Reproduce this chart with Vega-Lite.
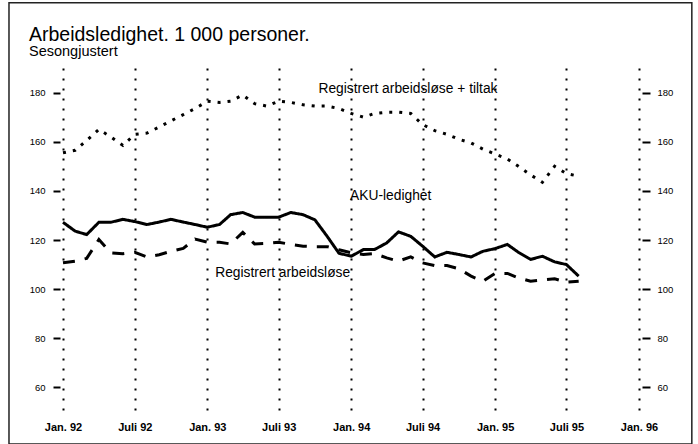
{
  "$schema": "https://vega.github.io/schema/vega-lite/v6.json",
  "width": 576,
  "height": 344,
  "autosize": {"type": "none"},
  "padding": {"left": 63, "top": 68, "right": 59, "bottom": 32},
  "background": "white",
  "config": {"view": {"stroke": null}, "font": "Liberation Sans"},
  "title": {
    "text": "Arbeidsledighet. 1 000 personer.",
    "subtitle": "Sesongjustert",
    "anchor": "start",
    "frame": "group",
    "dx": -34,
    "offset": -58,
    "font": "Liberation Sans",
    "fontSize": 19.5,
    "fontWeight": "normal",
    "color": "black",
    "subtitleFont": "Liberation Sans",
    "subtitleFontSize": 14.5,
    "subtitleColor": "black",
    "subtitlePadding": 0
  },
  "datasets": {
    "series": [
      {"date": "1992-01-01", "series": "AKU-ledighet", "value": 127.2},
      {"date": "1992-02-01", "series": "AKU-ledighet", "value": 123.6},
      {"date": "1992-03-01", "series": "AKU-ledighet", "value": 122.2},
      {"date": "1992-04-01", "series": "AKU-ledighet", "value": 127.2},
      {"date": "1992-05-01", "series": "AKU-ledighet", "value": 127.2},
      {"date": "1992-06-01", "series": "AKU-ledighet", "value": 128.4},
      {"date": "1992-07-01", "series": "AKU-ledighet", "value": 127.5},
      {"date": "1992-08-01", "series": "AKU-ledighet", "value": 126.3},
      {"date": "1992-09-01", "series": "AKU-ledighet", "value": 127.3},
      {"date": "1992-10-01", "series": "AKU-ledighet", "value": 128.4},
      {"date": "1992-11-01", "series": "AKU-ledighet", "value": 127.3},
      {"date": "1992-12-01", "series": "AKU-ledighet", "value": 126.3},
      {"date": "1993-01-01", "series": "AKU-ledighet", "value": 125.2},
      {"date": "1993-02-01", "series": "AKU-ledighet", "value": 126.3},
      {"date": "1993-03-01", "series": "AKU-ledighet", "value": 130.3},
      {"date": "1993-04-01", "series": "AKU-ledighet", "value": 131.2},
      {"date": "1993-05-01", "series": "AKU-ledighet", "value": 129.3},
      {"date": "1993-06-01", "series": "AKU-ledighet", "value": 129.3},
      {"date": "1993-07-01", "series": "AKU-ledighet", "value": 129.3},
      {"date": "1993-08-01", "series": "AKU-ledighet", "value": 131.2},
      {"date": "1993-09-01", "series": "AKU-ledighet", "value": 130.3},
      {"date": "1993-10-01", "series": "AKU-ledighet", "value": 128.2},
      {"date": "1993-11-01", "series": "AKU-ledighet", "value": 121.5},
      {"date": "1993-12-01", "series": "AKU-ledighet", "value": 114.6},
      {"date": "1994-01-01", "series": "AKU-ledighet", "value": 113.4},
      {"date": "1994-02-01", "series": "AKU-ledighet", "value": 116.1},
      {"date": "1994-03-01", "series": "AKU-ledighet", "value": 116.1},
      {"date": "1994-04-01", "series": "AKU-ledighet", "value": 118.8},
      {"date": "1994-05-01", "series": "AKU-ledighet", "value": 123.3},
      {"date": "1994-06-01", "series": "AKU-ledighet", "value": 121.5},
      {"date": "1994-07-01", "series": "AKU-ledighet", "value": 117.5},
      {"date": "1994-08-01", "series": "AKU-ledighet", "value": 113.1},
      {"date": "1994-09-01", "series": "AKU-ledighet", "value": 115.0},
      {"date": "1994-10-01", "series": "AKU-ledighet", "value": 114.1},
      {"date": "1994-11-01", "series": "AKU-ledighet", "value": 113.1},
      {"date": "1994-12-01", "series": "AKU-ledighet", "value": 115.4},
      {"date": "1995-01-01", "series": "AKU-ledighet", "value": 116.5},
      {"date": "1995-02-01", "series": "AKU-ledighet", "value": 118.2},
      {"date": "1995-03-01", "series": "AKU-ledighet", "value": 115.0},
      {"date": "1995-04-01", "series": "AKU-ledighet", "value": 112.1},
      {"date": "1995-05-01", "series": "AKU-ledighet", "value": 113.4},
      {"date": "1995-06-01", "series": "AKU-ledighet", "value": 111.1},
      {"date": "1995-07-01", "series": "AKU-ledighet", "value": 110.0},
      {"date": "1995-08-01", "series": "AKU-ledighet", "value": 105.3},
      {"date": "1992-01-01", "series": "Registrert arbeidsløse", "value": 110.7},
      {"date": "1992-02-01", "series": "Registrert arbeidsløse", "value": 111.4},
      {"date": "1992-03-01", "series": "Registrert arbeidsløse", "value": 112.5},
      {"date": "1992-04-01", "series": "Registrert arbeidsløse", "value": 120.2},
      {"date": "1992-05-01", "series": "Registrert arbeidsløse", "value": 114.8},
      {"date": "1992-06-01", "series": "Registrert arbeidsløse", "value": 114.4},
      {"date": "1992-07-01", "series": "Registrert arbeidsløse", "value": 115.0},
      {"date": "1992-08-01", "series": "Registrert arbeidsløse", "value": 113.1},
      {"date": "1992-09-01", "series": "Registrert arbeidsløse", "value": 114.0},
      {"date": "1992-10-01", "series": "Registrert arbeidsløse", "value": 115.4},
      {"date": "1992-11-01", "series": "Registrert arbeidsløse", "value": 116.6},
      {"date": "1992-12-01", "series": "Registrert arbeidsløse", "value": 120.4},
      {"date": "1993-01-01", "series": "Registrert arbeidsløse", "value": 119.1},
      {"date": "1993-02-01", "series": "Registrert arbeidsløse", "value": 119.1},
      {"date": "1993-03-01", "series": "Registrert arbeidsløse", "value": 118.4},
      {"date": "1993-04-01", "series": "Registrert arbeidsløse", "value": 123.1},
      {"date": "1993-05-01", "series": "Registrert arbeidsløse", "value": 118.4},
      {"date": "1993-06-01", "series": "Registrert arbeidsløse", "value": 118.6},
      {"date": "1993-07-01", "series": "Registrert arbeidsløse", "value": 119.1},
      {"date": "1993-08-01", "series": "Registrert arbeidsløse", "value": 118.2},
      {"date": "1993-09-01", "series": "Registrert arbeidsløse", "value": 117.5},
      {"date": "1993-10-01", "series": "Registrert arbeidsløse", "value": 117.3},
      {"date": "1993-11-01", "series": "Registrert arbeidsløse", "value": 117.3},
      {"date": "1993-12-01", "series": "Registrert arbeidsløse", "value": 116.0},
      {"date": "1994-01-01", "series": "Registrert arbeidsløse", "value": 114.8},
      {"date": "1994-02-01", "series": "Registrert arbeidsløse", "value": 114.1},
      {"date": "1994-03-01", "series": "Registrert arbeidsløse", "value": 114.5},
      {"date": "1994-04-01", "series": "Registrert arbeidsløse", "value": 112.7},
      {"date": "1994-05-01", "series": "Registrert arbeidsløse", "value": 111.4},
      {"date": "1994-06-01", "series": "Registrert arbeidsløse", "value": 113.1},
      {"date": "1994-07-01", "series": "Registrert arbeidsløse", "value": 110.7},
      {"date": "1994-08-01", "series": "Registrert arbeidsløse", "value": 109.6},
      {"date": "1994-09-01", "series": "Registrert arbeidsløse", "value": 109.6},
      {"date": "1994-10-01", "series": "Registrert arbeidsløse", "value": 108.3},
      {"date": "1994-11-01", "series": "Registrert arbeidsløse", "value": 105.3},
      {"date": "1994-12-01", "series": "Registrert arbeidsløse", "value": 103.2},
      {"date": "1995-01-01", "series": "Registrert arbeidsløse", "value": 106.4},
      {"date": "1995-02-01", "series": "Registrert arbeidsløse", "value": 106.4},
      {"date": "1995-03-01", "series": "Registrert arbeidsløse", "value": 104.6},
      {"date": "1995-04-01", "series": "Registrert arbeidsløse", "value": 103.2},
      {"date": "1995-05-01", "series": "Registrert arbeidsløse", "value": 103.7},
      {"date": "1995-06-01", "series": "Registrert arbeidsløse", "value": 104.2},
      {"date": "1995-07-01", "series": "Registrert arbeidsløse", "value": 102.8},
      {"date": "1995-08-01", "series": "Registrert arbeidsløse", "value": 103.2},
      {"date": "1992-01-01", "series": "Registrert arbeidsløse + tiltak", "value": 155.5},
      {"date": "1992-02-01", "series": "Registrert arbeidsløse + tiltak", "value": 156.5},
      {"date": "1992-03-01", "series": "Registrert arbeidsløse + tiltak", "value": 160.5},
      {"date": "1992-04-01", "series": "Registrert arbeidsløse + tiltak", "value": 165.0},
      {"date": "1992-05-01", "series": "Registrert arbeidsløse + tiltak", "value": 162.0},
      {"date": "1992-06-01", "series": "Registrert arbeidsløse + tiltak", "value": 158.5},
      {"date": "1992-07-01", "series": "Registrert arbeidsløse + tiltak", "value": 163.0},
      {"date": "1992-08-01", "series": "Registrert arbeidsløse + tiltak", "value": 163.5},
      {"date": "1992-09-01", "series": "Registrert arbeidsløse + tiltak", "value": 166.0},
      {"date": "1992-10-01", "series": "Registrert arbeidsløse + tiltak", "value": 168.5},
      {"date": "1992-11-01", "series": "Registrert arbeidsløse + tiltak", "value": 171.0},
      {"date": "1992-12-01", "series": "Registrert arbeidsløse + tiltak", "value": 173.5},
      {"date": "1993-01-01", "series": "Registrert arbeidsløse + tiltak", "value": 176.5},
      {"date": "1993-02-01", "series": "Registrert arbeidsløse + tiltak", "value": 176.0},
      {"date": "1993-03-01", "series": "Registrert arbeidsløse + tiltak", "value": 176.5},
      {"date": "1993-04-01", "series": "Registrert arbeidsløse + tiltak", "value": 179.0},
      {"date": "1993-05-01", "series": "Registrert arbeidsløse + tiltak", "value": 175.5},
      {"date": "1993-06-01", "series": "Registrert arbeidsløse + tiltak", "value": 174.5},
      {"date": "1993-07-01", "series": "Registrert arbeidsløse + tiltak", "value": 176.5},
      {"date": "1993-08-01", "series": "Registrert arbeidsløse + tiltak", "value": 176.0},
      {"date": "1993-09-01", "series": "Registrert arbeidsløse + tiltak", "value": 175.0},
      {"date": "1993-10-01", "series": "Registrert arbeidsløse + tiltak", "value": 174.5},
      {"date": "1993-11-01", "series": "Registrert arbeidsløse + tiltak", "value": 174.5},
      {"date": "1993-12-01", "series": "Registrert arbeidsløse + tiltak", "value": 173.5},
      {"date": "1994-01-01", "series": "Registrert arbeidsløse + tiltak", "value": 171.5},
      {"date": "1994-02-01", "series": "Registrert arbeidsløse + tiltak", "value": 170.0},
      {"date": "1994-03-01", "series": "Registrert arbeidsløse + tiltak", "value": 171.5},
      {"date": "1994-04-01", "series": "Registrert arbeidsløse + tiltak", "value": 172.0},
      {"date": "1994-05-01", "series": "Registrert arbeidsløse + tiltak", "value": 172.0},
      {"date": "1994-06-01", "series": "Registrert arbeidsløse + tiltak", "value": 171.5},
      {"date": "1994-07-01", "series": "Registrert arbeidsløse + tiltak", "value": 167.0},
      {"date": "1994-08-01", "series": "Registrert arbeidsløse + tiltak", "value": 164.5},
      {"date": "1994-09-01", "series": "Registrert arbeidsløse + tiltak", "value": 163.0},
      {"date": "1994-10-01", "series": "Registrert arbeidsløse + tiltak", "value": 161.0},
      {"date": "1994-11-01", "series": "Registrert arbeidsløse + tiltak", "value": 159.5},
      {"date": "1994-12-01", "series": "Registrert arbeidsløse + tiltak", "value": 157.0},
      {"date": "1995-01-01", "series": "Registrert arbeidsløse + tiltak", "value": 155.0},
      {"date": "1995-02-01", "series": "Registrert arbeidsløse + tiltak", "value": 153.0},
      {"date": "1995-03-01", "series": "Registrert arbeidsløse + tiltak", "value": 150.0},
      {"date": "1995-04-01", "series": "Registrert arbeidsløse + tiltak", "value": 146.5},
      {"date": "1995-05-01", "series": "Registrert arbeidsløse + tiltak", "value": 143.5},
      {"date": "1995-06-01", "series": "Registrert arbeidsløse + tiltak", "value": 150.0},
      {"date": "1995-07-01", "series": "Registrert arbeidsløse + tiltak", "value": 147.0},
      {"date": "1995-08-01", "series": "Registrert arbeidsløse + tiltak", "value": 146.0}
    ],
    "labels": [
      {"label": "Registrert arbeidsløse + tiltak", "date": "1993-10-10", "value": 180.0},
      {"label": "AKU-ledighet", "date": "1993-12-29", "value": 136.1},
      {"label": "Registrert arbeidsløse", "date": "1993-01-21", "value": 105.1}
    ]
  },
  "layer": [
    {
      "data": {"name": "series"},
      "mark": {"type": "line", "strokeWidth": 3, "color": "black"},
      "encoding": {
        "x": {
          "field": "date", "type": "temporal",
          "scale": {"domain": [{"year": 1992, "month": 1, "date": 1}, {"year": 1996, "month": 1, "date": 1}]},
          "axis": {
            "values": [
              {"year": 1992, "month": 1, "date": 1}, {"year": 1992, "month": 7, "date": 1},
              {"year": 1993, "month": 1, "date": 1}, {"year": 1993, "month": 7, "date": 1},
              {"year": 1994, "month": 1, "date": 1}, {"year": 1994, "month": 7, "date": 1},
              {"year": 1995, "month": 1, "date": 1}, {"year": 1995, "month": 7, "date": 1},
              {"year": 1996, "month": 1, "date": 1}
            ],
            "labelExpr": "(month(datum.value) == 0 ? 'Jan. ' : 'Juli ') + timeFormat(datum.value, '%y')",
            "grid": true, "gridColor": "black", "gridDash": [2, 8], "gridWidth": 2, "gridOpacity": 1,
            "domain": false, "ticks": false, "title": null,
            "labelFont": "Liberation Sans", "labelFontWeight": "bold", "labelFontSize": 11,
            "labelColor": "black", "labelPadding": 9, "labelFlush": false, "labelOverlap": false
          }
        },
        "y": {
          "field": "value", "type": "quantitative",
          "scale": {"domain": [50, 190], "nice": false, "zero": false},
          "axis": {
            "orient": "left", "values": [60, 80, 100, 120, 140, 160, 180], "grid": false, "domain": false,
            "title": null, "offset": 3, "tickSize": 7, "tickWidth": 2, "tickColor": "black",
            "labelPadding": 8, "labelFont": "Liberation Sans", "labelFontSize": 9.5, "labelColor": "black"
          }
        },
        "strokeDash": {
          "field": "series", "type": "nominal", "legend": null,
          "scale": {
            "domain": ["AKU-ledighet", "Registrert arbeidsløse", "Registrert arbeidsløse + tiltak"],
            "range": [[1, 0], [12, 10], [3, 7]]
          }
        },
        "detail": {"field": "series"},
        "order": {"field": "date", "type": "temporal"}
      }
    },
    {
      "data": {"name": "labels"},
      "mark": {"type": "text", "align": "left", "baseline": "alphabetic", "font": "Liberation Sans", "fontSize": 13.8, "color": "black"},
      "encoding": {
        "x": {"field": "date", "type": "temporal"},
        "y": {
          "field": "value", "type": "quantitative",
          "scale": {"domain": [50, 190], "nice": false, "zero": false},
          "axis": {
            "orient": "right", "values": [60, 80, 100, 120, 140, 160, 180], "grid": false, "domain": false,
            "title": null, "offset": 3, "tickSize": 8, "tickWidth": 2, "tickColor": "black",
            "labelPadding": 7, "labelFont": "Liberation Sans", "labelFontSize": 9.5, "labelColor": "black"
          }
        },
        "text": {"field": "label"}
      }
    },
    {
      "data": {"values": [{}]},
      "mark": {"type": "rect", "fillOpacity": 0, "stroke": "#222222", "strokeWidth": 1.5},
      "encoding": {
        "x": {"datum": {"year": 1991, "month": 8, "date": 17}, "type": "temporal"},
        "x2": {"datum": {"year": 1996, "month": 5, "date": 14}},
        "y": {"datum": 216.6, "type": "quantitative", "axis": null},
        "y2": {"datum": 37}
      }
    }
  ],
  "resolve": {"axis": {"y": "independent"}}
}
